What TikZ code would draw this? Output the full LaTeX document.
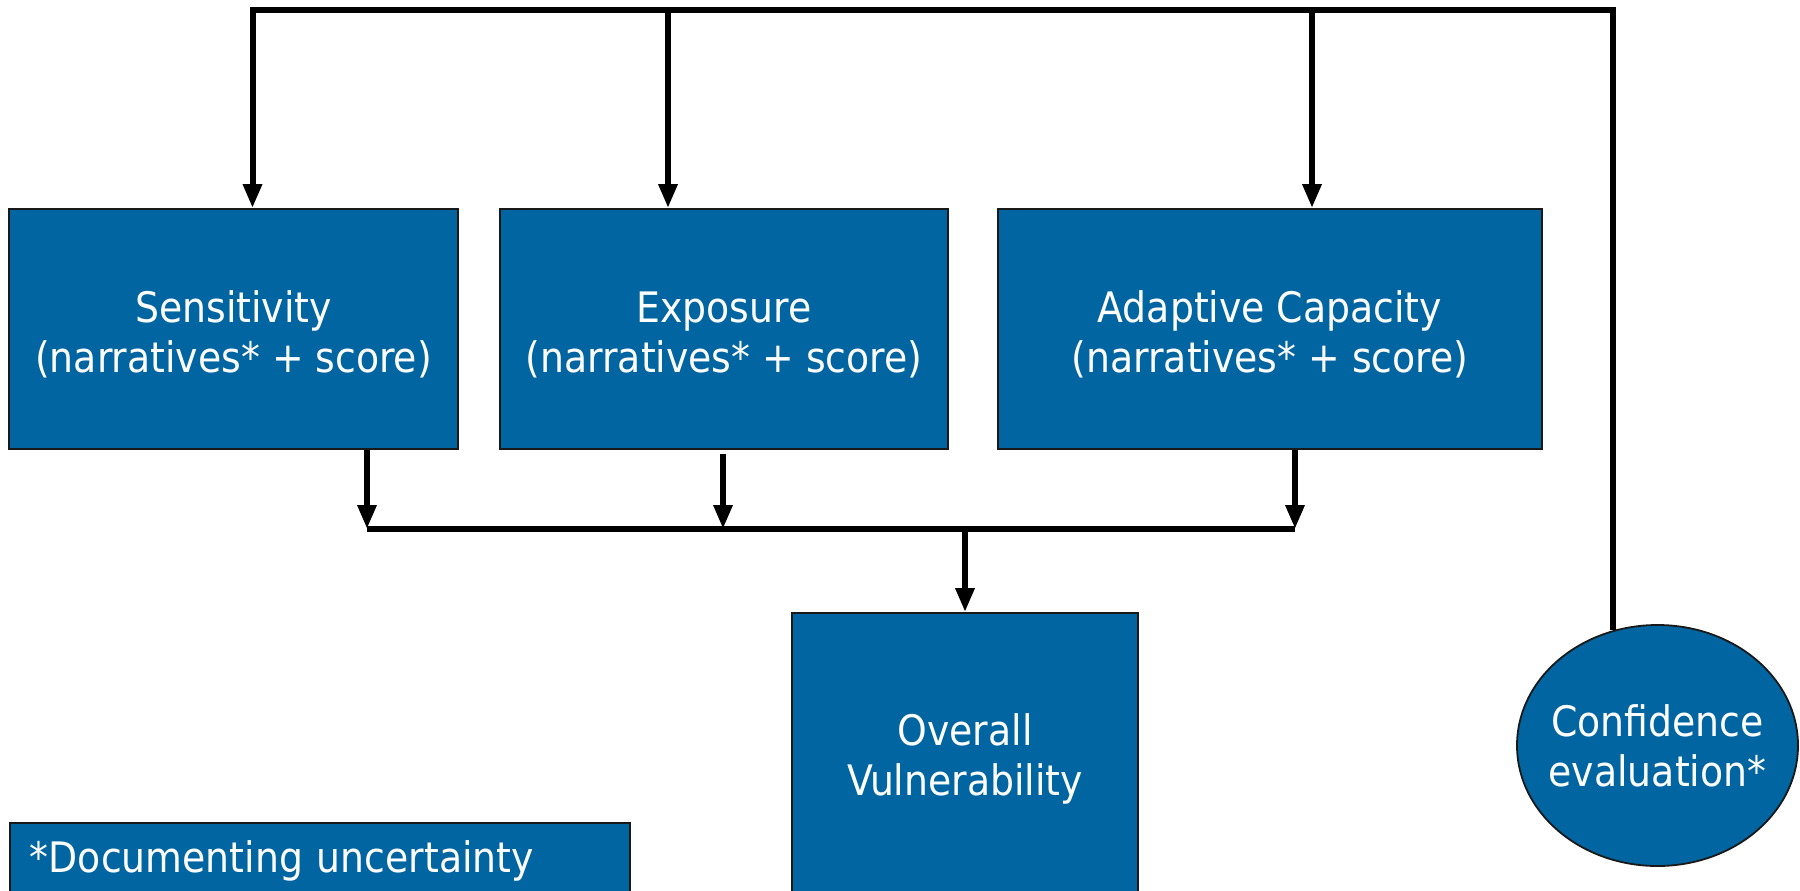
\documentclass[tikz,border=0pt]{standalone}
\usepackage{fontspec}
\setmainfont{DejaVu Sans Condensed}
\usetikzlibrary{arrows.meta,shapes.geometric,calc}
\definecolor{boxblue}{RGB}{0,101,160}
\definecolor{edge}{RGB}{25,25,25}
\newcommand{\myStrut}[1]{\rule{0pt}{#1}}
\tikzset{
  box/.style={draw=edge,line width=0.9pt,fill=boxblue,text=white,align=center,inner sep=0pt,
    font=\fontsize{21pt}{25pt}\selectfont},
  ovalbox/.style={ellipse,draw=edge,line width=0.9pt,fill=boxblue,inner sep=0pt},
  lbl/.style={text=white,align=center,inner sep=0pt,font=\fontsize{21pt}{25pt}\selectfont},
  bus/.style={line width=3pt,line join=miter},
  arr/.style={line width=3pt,line join=miter,-{Triangle[width=9pt,length=12pt]}},
}
\begin{document}
\begin{tikzpicture}[x=0.5pt,y=-0.5pt]
\clip (0,0) rectangle (1800,890);
\fill[white] (0,0) rectangle (1800,890);
% boxes
\node[box,minimum width=224.5pt,minimum height=120pt] (sens) at (233.5,329) {\myStrut{21.5pt}Sensitivity\\(narratives* + score)};
\node[box,minimum width=224pt,minimum height=120pt] (expo) at (724,329) {\myStrut{21.5pt}Exposure\\(narratives* + score)};
\node[box,minimum width=272pt,minimum height=120pt] (adap) at (1270,329) {\myStrut{21.5pt}Adaptive Capacity\\(narratives* + score)};
\node[box,minimum width=173pt,minimum height=142pt] (overall) at (965,755) {\myStrut{19.5pt}Overall\\Vulnerability};
\node[ovalbox,minimum width=140.5pt,minimum height=120.5pt] (conf) at (1657.5,745.5) {};
\node[lbl] (conftxt) at (conf.center) {Confidence\\evaluation*};
\node[box,anchor=north west,text width=290pt,align=left,inner xsep=10pt,inner ysep=9pt] (legend) at (9,822) {*Documenting uncertainty};
% coordinates of connector junctions
\coordinate (b1) at (252.5,10);
\coordinate (b2) at (668,10);
\coordinate (b3) at (1312,10);
\coordinate (c1) at (367,529);
\coordinate (c2) at (723,529);
\coordinate (c3) at (1295,529);
% top distribution
\draw[arr] (conf.111) |- (b1) -- (b1 |- sens.north);
\draw[arr] (b2) -- (b2 |- expo.north);
\draw[arr] (b3) -- (b3 |- adap.north);
% lower collection
\draw[arr] (c1 |- sens.south) -- (c1);
\draw[arr,shorten <=2pt] (c2 |- expo.south) -- (c2);
\draw[arr] (c3 |- adap.south) -- (c3);
\draw[bus] (c1) -- (c3);
\draw[arr] (overall.north |- c1) -- (overall.north);
\end{tikzpicture}
\end{document}
